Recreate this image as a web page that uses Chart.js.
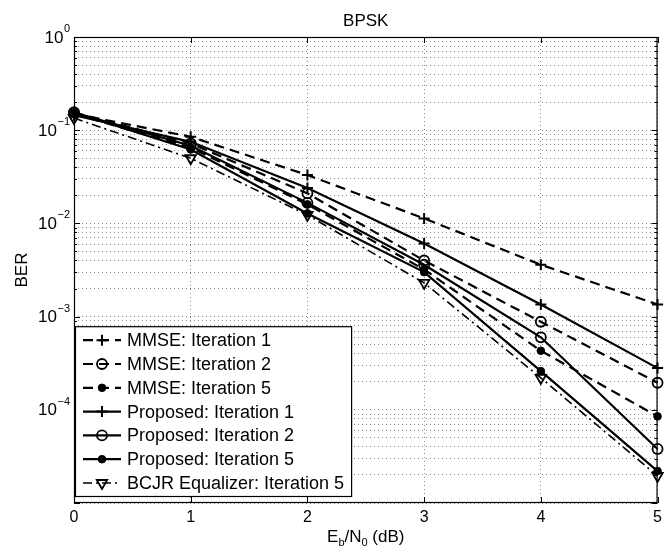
<!DOCTYPE html>
<html><head><meta charset="utf-8">
<script src="https://cdn.jsdelivr.net/npm/chart.js@4"></script>
<style>html,body{margin:0;padding:0;background:#fff}</style>
</head><body>
<canvas id="c" width="667" height="554"></canvas>
<script>
// ---- data ----
const ebn0 = [0, 1, 2, 3, 4, 5];
const mmseIter1 = [0.150, 0.085, 0.033, 0.0113, 0.0036, 0.00135];
const mmseIter2 = [0.155, 0.072, 0.021, 0.0040, 0.00088, 0.000195];
const mmseIter5 = [0.150, 0.065, 0.016, 0.0032, 0.00043, 0.000085];
const propIter1 = [0.145, 0.075, 0.024, 0.0061, 0.00135, 0.00028];
const propIter2 = [0.155, 0.068, 0.0166, 0.0036, 0.00060, 0.000038];
const propIter5 = [0.155, 0.062, 0.0128, 0.0030, 0.00026, 0.000022];
const bcjrIter5 = [0.135, 0.050, 0.0123, 0.0023, 0.00022, 0.0000195];
const seriesNames = ['MMSE: Iteration 1', 'MMSE: Iteration 2', 'MMSE: Iteration 5',
  'Proposed: Iteration 1', 'Proposed: Iteration 2', 'Proposed: Iteration 5', 'BCJR Equalizer: Iteration 5'];
const xTickLabels = ['0', '1', '2', '3', '4', '5'];
const yTickExponents = [0, -1, -2, -3, -4];
const titleText = 'BPSK';
const yTitle = 'BER';

const FONT = "'Liberation Sans', Arial, Helvetica, sans-serif";
const pts = arr => arr.map((v, i) => ({x: ebn0[i], y: v}));

const DASH = [10, 6], DASHDOT = [9, 4, 2, 4];
const mk = {
  plus:  {pointStyle: 'cross', pointRadius: 5.5, pointBorderWidth: 2, pointBackgroundColor: 'rgba(0,0,0,0)', pointRotation: 0},
  circ:  {pointStyle: 'circle', pointRadius: 5, pointBorderWidth: 1.8, pointBackgroundColor: 'rgba(0,0,0,0)', pointRotation: 0},
  dot:   {pointStyle: 'circle', pointRadius: 3.8, pointBorderWidth: 1, pointBackgroundColor: '#000', pointRotation: 0},
  tri:   {pointStyle: 'triangle', pointRadius: 6, pointBorderWidth: 1.8, pointBackgroundColor: 'rgba(0,0,0,0)', pointRotation: 180}
};
function ds(label, data, dash, m, w) {
  return Object.assign({label, data: pts(data), borderColor: '#000', pointBorderColor: '#000',
    borderWidth: w || 2.2, borderDash: dash, tension: 0, fill: false, clip: false,
    pointHoverRadius: m.pointRadius}, m);
}
const datasets = [
  ds(seriesNames[0], mmseIter1, DASH, mk.plus),
  ds(seriesNames[1], mmseIter2, DASH, mk.circ),
  ds(seriesNames[2], mmseIter5, DASH, mk.dot),
  ds(seriesNames[3], propIter1, [], mk.plus),
  ds(seriesNames[4], propIter2, [], mk.circ),
  ds(seriesNames[5], propIter5, [], mk.dot),
  ds(seriesNames[6], bcjrIter5, DASHDOT, mk.tri, 1.6)
];

function drawMarker(ctx, style, r, rot, x, y, fill, bw) {
  ctx.save();
  ctx.lineWidth = bw; ctx.strokeStyle = '#000'; ctx.fillStyle = fill; ctx.setLineDash([]);
  ctx.beginPath();
  if (style === 'cross') {
    ctx.moveTo(x - r, y); ctx.lineTo(x + r, y); ctx.moveTo(x, y - r); ctx.lineTo(x, y + r);
    ctx.stroke();
  } else if (style === 'circle') {
    ctx.arc(x, y, r, 0, Math.PI * 2); ctx.fill(); ctx.stroke();
  } else if (style === 'triangle') {
    const a = rot * Math.PI / 180;
    for (let k = 0; k < 3; k++) {
      const t = a + k * 2 * Math.PI / 3 - Math.PI / 2;
      const px = x + r * Math.cos(t), py = y + r * Math.sin(t);
      k ? ctx.lineTo(px, py) : ctx.moveTo(px, py);
    }
    ctx.closePath(); ctx.fill(); ctx.stroke();
  }
  ctx.restore();
}

const decor = {
  id: 'decor',
  afterDraw(chart) {
    const ctx = chart.ctx, a = chart.chartArea, xs = chart.scales.x, ys = chart.scales.y;
    ctx.save();
    // frame
    ctx.strokeStyle = '#000'; ctx.lineWidth = 1.2; ctx.setLineDash([]);
    ctx.strokeRect(a.left + 0.5, a.top + 0.5, a.right - a.left - 1, a.bottom - a.top - 1);
    // inward ticks
    ctx.lineWidth = 1;
    ctx.beginPath();
    ys.ticks.forEach(t => {
      const y = Math.round(ys.getPixelForValue(t.value)) + 0.5;
      const len = t.major ? 6 : 3;
      ctx.moveTo(a.left, y); ctx.lineTo(a.left + len, y);
      ctx.moveTo(a.right, y); ctx.lineTo(a.right - len, y);
    });
    xs.ticks.forEach(t => {
      const x = Math.round(xs.getPixelForValue(t.value)) + 0.5;
      ctx.moveTo(x, a.bottom); ctx.lineTo(x, a.bottom - 6);
      ctx.moveTo(x, a.top); ctx.lineTo(x, a.top + 6);
    });
    ctx.stroke();
    // y tick labels with superscripts
    ctx.fillStyle = '#000';
    yTickExponents.forEach(e => {
      const y = ys.getPixelForValue(Math.pow(10, e));
      const sup = e === 0 ? '0' : '\u2212' + (-e);
      ctx.font = '11px ' + FONT;
      const sw = ctx.measureText(sup).width;
      const right = 70;
      ctx.textAlign = 'left'; ctx.textBaseline = 'alphabetic';
      ctx.fillText(sup, right - sw, y - 5);
      ctx.font = '17px ' + FONT;
      ctx.textAlign = 'right'; ctx.textBaseline = 'middle';
      ctx.fillText('10', right - sw - 0.5, y + 1);
    });
    // title
    ctx.font = '17px ' + FONT; ctx.textAlign = 'center'; ctx.textBaseline = 'alphabetic';
    ctx.fillText(titleText, (a.left + a.right) / 2, 26);
    // y title
    ctx.save();
    ctx.translate(22, (a.top + a.bottom) / 2); ctx.rotate(-Math.PI / 2);
    ctx.textAlign = 'center'; ctx.textBaseline = 'middle';
    ctx.fillText(yTitle, 0, 0);
    ctx.restore();
    // x title: E_b/N_0 (dB)
    const parts = [['E', 17, 0], ['b', 11, 4], ['/N', 17, 0], ['0', 11, 4], [' (dB)', 17, 0]];
    let total = 0;
    parts.forEach(p => { ctx.font = p[1] + 'px ' + FONT; total += ctx.measureText(p[0]).width; });
    let cx = (a.left + a.right) / 2 - total / 2;
    ctx.textAlign = 'left'; ctx.textBaseline = 'alphabetic';
    parts.forEach(p => { ctx.font = p[1] + 'px ' + FONT; ctx.fillText(p[0], cx, 542 + p[2]); cx += ctx.measureText(p[0]).width; });
    // legend
    const LF = '18px ' + FONT;
    ctx.font = LF;
    let tw = 0; seriesNames.forEach(n => tw = Math.max(tw, ctx.measureText(n).width));
    const lx = a.left + 1, rowH = 23.8, n = seriesNames.length;
    const bottom = 497, top = bottom - 14 - rowH * (n - 1) - 14;
    const textX = lx + 52, rightX = textX + tw + 8;
    ctx.fillStyle = '#fff'; ctx.fillRect(lx, top, rightX - lx, bottom - top);
    ctx.strokeStyle = '#000'; ctx.lineWidth = 1.2;
    ctx.strokeRect(lx + 0.5, top + 0.5, rightX - lx - 1, bottom - top - 1);
    chart.data.datasets.forEach((d, i) => {
      const y = top + 14 + i * rowH;
      ctx.save();
      ctx.strokeStyle = '#000'; ctx.lineWidth = d.borderWidth; ctx.setLineDash(d.borderDash || []);
      ctx.beginPath(); ctx.moveTo(lx + 8, y); ctx.lineTo(lx + 46, y); ctx.stroke();
      ctx.restore();
      drawMarker(ctx, d.pointStyle, d.pointRadius, d.pointRotation, lx + 27, y, d.pointBackgroundColor, d.pointBorderWidth);
      ctx.fillStyle = '#000'; ctx.font = LF; ctx.textAlign = 'left'; ctx.textBaseline = 'middle';
      ctx.fillText(d.label, textX, y + 1);
    });
    ctx.restore();
  }
};

const allLogTicks = [];
for (let e = -5; e <= 0; e++) for (let m = 1; m <= 9; m++) { const v = m * Math.pow(10, e); if (v <= 1.0000001) allLogTicks.push({value: v, major: m === 1}); }

new Chart(document.getElementById('c'), {
  type: 'line',
  data: {datasets},
  plugins: [decor],
  options: {
    responsive: false, animation: false, devicePixelRatio: 1,
    layout: {padding: {top: 37, right: 5, left: 0, bottom: 0}},
    plugins: {legend: {display: false}, title: {display: false}, tooltip: {enabled: false}},
    scales: {
      x: {
        type: 'linear', min: 0, max: 5,
        ticks: {stepSize: 1, color: '#000', font: {family: FONT, size: 16}, padding: 5,
          callback: (v, i) => xTickLabels[i] !== undefined ? xTickLabels[i] : ''},
        grid: {color: 'rgba(0,0,0,0.45)', lineWidth: 1, drawTicks: false},
        border: {display: false, dash: [1, 3]},
        afterFit: s => { s.height = 51; }
      },
      y: {
        type: 'logarithmic', min: 1e-5, max: 1,
        afterBuildTicks: s => { s.ticks = allLogTicks.map(t => ({value: t.value, major: t.major})); },
        ticks: {display: false},
        grid: {color: 'rgba(0,0,0,0.45)', lineWidth: 1, drawTicks: false},
        border: {display: false, dash: [1, 3]},
        afterFit: s => { s.width = 74; }
      }
    }
  }
});
</script>
</body></html>
